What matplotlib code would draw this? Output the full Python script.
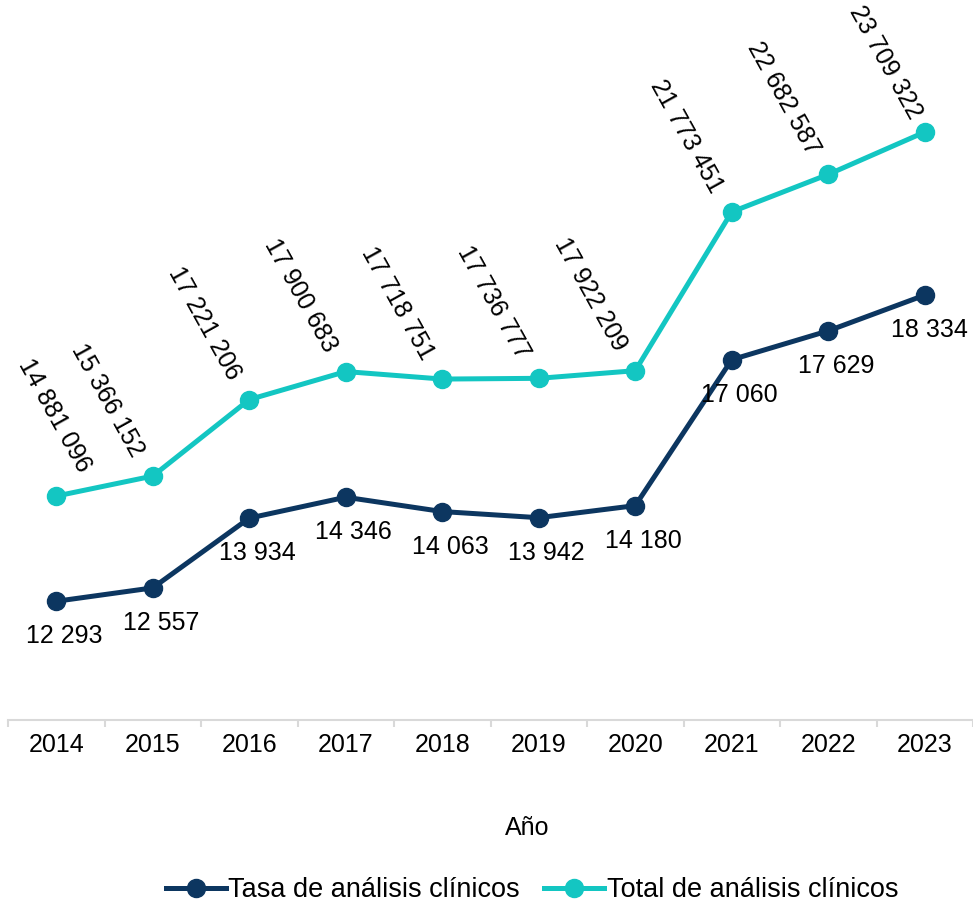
import matplotlib
matplotlib.use("Agg")
import matplotlib.pyplot as plt

plt.rcParams['font.family'] = ['Liberation Sans', 'DejaVu Sans']

years = ['2014', '2015', '2016', '2017', '2018', '2019', '2020', '2021', '2022', '2023']
tasa = [12293, 12557, 13934, 14346, 14063, 13942, 14180, 17060, 17629, 18334]
total = [14881096, 15366152, 17221206, 17900683, 17718751, 17736777, 17922209,
         21773451, 22682587, 23709322]

dark = '#0c3660'
cyan = '#13c6c2'
fs = 18


def fmt(v):
    return f"{v:,}".replace(",", " ")


fig = plt.figure(figsize=(9.73, 9.05), dpi=100)
ax = fig.add_axes([8 / 973, 1 - 720 / 905, 965 / 973, 710 / 905])
ax2 = ax.twinx()

x = list(range(len(years)))
l1, = ax.plot(x, tasa, color=dark, lw=3.6, marker='o', ms=13,
              label='Tasa de análisis clínicos', zorder=3)
l2, = ax2.plot(x, total, color=cyan, lw=3.6, marker='o', ms=13,
               label='Total de análisis clínicos', zorder=3)

ax.set_ylim(9950, 23960)
ax2.set_ylim(9.45e6, 26.67e6)
ax.set_xlim(-0.5, 9.5)

# labels for the dark series, below the points
for i, v in enumerate(tasa):
    dx = 8 if i < len(tasa) - 1 else 5
    ax.annotate(fmt(v), (i, v), xytext=(dx, -35), textcoords='offset pixels',
                ha='center', va='center', fontsize=fs, color='black')

# rotated labels for the cyan series
for i, v in enumerate(total):
    if i == 0:
        dx, dy = -2, 81
    elif i == len(total) - 1:
        dx, dy = -39, 70
    else:
        dx, dy = -45, 76
    ax2.annotate(fmt(v), (i, v), xytext=(dx, dy), textcoords='offset pixels',
                 ha='center', va='center', rotation=-61, fontsize=fs, color='black')

for a in (ax, ax2):
    for s in ('left', 'right', 'top'):
        a.spines[s].set_visible(False)
    a.set_yticks([])
ax.spines['bottom'].set_color('#d9d9d9')
ax.spines['bottom'].set_linewidth(1.5)
ax2.spines['bottom'].set_visible(False)

ax.set_xticks(x)
ax.set_xticklabels(years, fontsize=fs)
ax.tick_params(axis='x', which='major', length=0, pad=9)
ax.set_xticks([i - 0.5 for i in range(len(years) + 1)], minor=True)
ax.tick_params(axis='x', which='minor', length=5, width=1.5, color='#d9d9d9')

fig.text(527 / 973, 1 - 828 / 905, 'Año', ha='center', va='center', fontsize=fs)

fig.legend(handles=[l1, l2], loc='center', ncol=2,
           bbox_to_anchor=(532 / 973, 1 - 890 / 905), frameon=False,
           fontsize=19.5, handlelength=2.2, handletextpad=0.1, columnspacing=0.9)

fig.savefig('out.png', dpi=100)
